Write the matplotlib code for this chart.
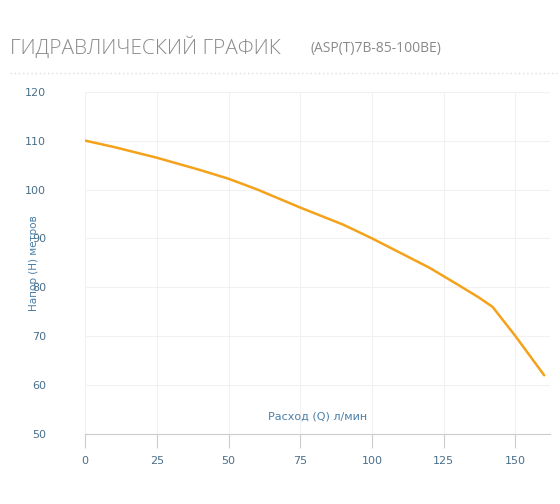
import matplotlib
matplotlib.use("Agg")
import matplotlib.pyplot as plt

flow = [0, 10, 25, 40, 50, 60, 75, 90, 100, 110, 120, 130, 137, 142, 150, 160]
head = [110, 108.7, 106.5, 104, 102.2, 100, 96.3, 92.8, 90, 87, 84, 80.5, 78, 76, 70, 62]
xticks = [0, 25, 50, 75, 100, 125, 150]
yticks = [50, 60, 70, 80, 90, 100, 110, 120]

fig = plt.figure(figsize=(5.6, 5.04), dpi=100)
ax = fig.add_axes([0.152, 0.139, 0.830, 0.679])
ax.plot(flow, head, color="#f5a21b", lw=1.8, solid_capstyle="round")
ax.set_xlim(0, 162)
ax.set_ylim(50, 120)
ax.set_xticks(xticks)
ax.set_yticks(yticks)
ax.grid(True, color="#f1f1f1", lw=0.8)
for s in ["top", "right", "left"]:
    ax.spines[s].set_visible(False)
ax.spines["bottom"].set_color("#cccccc")
ax.tick_params(axis="x", colors="#cccccc", length=10, direction="out", labelcolor="#4a6f8a", labelsize=8, pad=6)
ax.tick_params(axis="y", length=0, labelcolor="#4a6f8a", labelsize=8, pad=28)
ax.text(81, 52.5, "Расход (Q) л/мин", ha="center", va="bottom", color="#4a7fa8", fontsize=8)
fig.text(0.06, 0.478, "Напор (H) метров", color="#4a7fa8", fontsize=7.5, rotation=90, ha="center", va="center")
fig.text(0.018, 0.905, "ГИДРАВЛИЧЕСКИЙ ГРАФИК", fontsize=15, color="#8a8a8a", va="center", family="Open Sans", fontweight="light")
fig.text(0.555, 0.903, "(ASP(T)7B-85-100BE)", fontsize=10, color="#8a8a8a", va="center", family="Open Sans")
fig.add_artist(plt.Line2D([0.018, 1.0], [0.855, 0.855], color="#dddddd", lw=1, ls=(0, (1, 2))))
fig.savefig("out.png", dpi=100)
